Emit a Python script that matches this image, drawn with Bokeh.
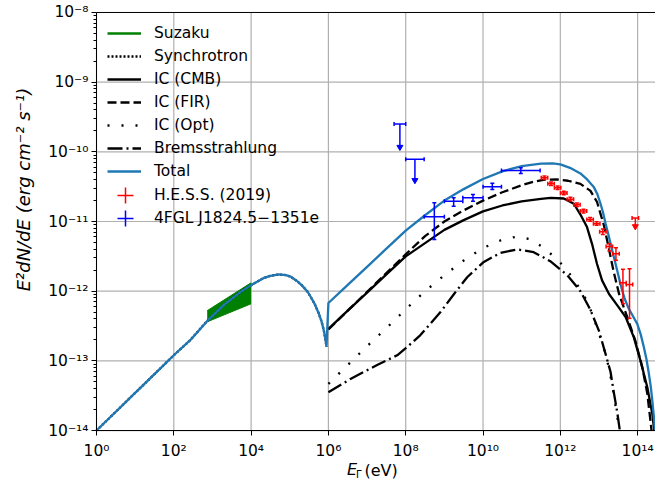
import numpy as np
from bokeh.plotting import figure
from bokeh.models import (Range1d, FixedTicker, CustomJSTickFormatter, Legend,
                          LegendItem, Label)
from bokeh.models import ColumnDataSource
from bokeh.embed import file_html
from bokeh.resources import INLINE

# ---------------- data ----------------
# model curves: log10(E / eV) and log10(E^2 dN/dE / erg cm^-2 s^-1)
sync_log_e = [0.0, 0.5, 1.0, 1.5, 2.0, 2.43, 2.86, 3.29, 3.73, 3.98, 4.33, 4.5, 4.72,
              4.9, 5.02, 5.2, 5.32, 5.45, 5.54, 5.65, 5.75, 5.82, 5.88, 5.92, 5.95]
sync_log_f = [-14.0, -13.73, -13.46, -13.19, -12.92, -12.70, -12.43, -12.20, -12.01,
              -11.92, -11.81, -11.78, -11.76, -11.77, -11.79, -11.86, -11.92, -12.00,
              -12.08, -12.19, -12.32, -12.43, -12.56, -12.68, -12.80]

cmb_log_e = [6.0, 6.5, 7.0, 7.5, 8.0, 8.5, 9.0, 9.5, 10.0, 10.5, 11.0, 11.5, 11.75, 12.09,
             12.35, 12.52, 12.69, 12.82, 12.95, 13.08, 13.26, 13.47, 13.69, 13.90, 14.07,
             14.25, 14.38, 14.43]
cmb_log_f = [-12.54, -12.28, -12.02, -11.76, -11.50, -11.31, -11.12, -10.98, -10.855,
             -10.77, -10.71, -10.675, -10.66, -10.67, -10.745, -10.90, -11.08, -11.32,
             -11.61, -11.845, -12.04, -12.20, -12.37, -12.66, -12.99, -13.38, -13.76, -14.0]

fir_log_e = [6.0, 6.5, 7.0, 7.5, 8.0, 8.5, 9.0, 9.5, 10.0, 10.5, 11.0, 11.3, 11.6, 11.9,
             12.2, 12.52, 12.78, 12.95, 13.13, 13.26, 13.38, 13.52, 13.73, 13.94, 14.12,
             14.25, 14.33, 14.36]
fir_log_f = [-12.55, -12.28, -12.01, -11.74, -11.47, -11.21, -11.00, -10.84, -10.70,
             -10.58, -10.48, -10.43, -10.40, -10.395, -10.415, -10.46, -10.56, -10.72,
             -11.06, -11.40, -11.72, -12.04, -12.37, -12.71, -13.09, -13.47, -13.85, -14.0]

opt_log_e = [6.0, 6.5, 7.0, 7.5, 8.0, 8.5, 9.0, 9.5, 10.0, 10.5, 10.85, 11.2, 11.5, 11.81,
             12.07, 12.31, 12.50, 12.68, 12.82, 12.95, 13.06, 13.17, 13.25, 13.32, 13.38,
             13.44, 13.50, 13.53]
opt_log_f = [-13.33, -13.06, -12.79, -12.53, -12.26, -12.00, -11.77, -11.56, -11.38,
             -11.26, -11.22, -11.25, -11.35, -11.49, -11.63, -11.80, -11.96, -12.13,
             -12.32, -12.52, -12.71, -12.90, -13.09, -13.28, -13.47, -13.69, -13.90, -14.0]

brems_log_e = [6.0, 6.57, 7.26, 7.78, 8.04, 8.38, 8.90, 9.25, 9.59, 10.02, 10.45, 10.88,
               11.31, 11.74, 12.18, 12.52, 12.78, 13.00, 13.17, 13.30, 13.38, 13.47, 13.54]
brems_log_f = [-13.45, -13.26, -13.06, -12.92, -12.80, -12.63, -12.30, -12.04, -11.80,
               -11.58, -11.45, -11.40, -11.44, -11.57, -11.77, -12.00, -12.27, -12.57,
               -12.90, -13.16, -13.44, -13.73, -14.0]

total_log_e = [0.0, 0.5, 1.0, 1.5, 2.0, 2.43, 2.86, 3.29, 3.73, 3.98, 4.33, 4.5, 4.72,
               4.9, 5.02, 5.2, 5.32, 5.45, 5.54, 5.65, 5.75, 5.82, 5.88, 5.92, 5.95,
               6.0, 6.5, 7.0, 7.5, 8.0, 8.5, 9.0, 9.5, 10.0, 10.5, 11.0, 11.5, 11.8, 12.0,
               12.25, 12.52, 12.7, 12.87, 12.96, 13.04, 13.1, 13.17, 13.24, 13.30, 13.38,
               13.47, 13.54, 13.60, 13.68, 13.77, 13.88, 13.99, 14.08, 14.16, 14.23, 14.29,
               14.34, 14.38, 14.42, 14.45]
total_log_f = [-14.0, -13.73, -13.46, -13.19, -12.92, -12.70, -12.43, -12.20, -12.01,
               -11.92, -11.81, -11.78, -11.76, -11.77, -11.79, -11.86, -11.92, -12.00,
               -12.08, -12.19, -12.32, -12.43, -12.56, -12.68, -12.80,
               -12.17, -11.91, -11.65, -11.39, -11.13, -10.91, -10.70, -10.535, -10.39,
               -10.28, -10.205, -10.17, -10.165, -10.18, -10.23, -10.31, -10.40, -10.51,
               -10.61, -10.745, -10.86, -11.03, -11.18, -11.32, -11.50, -11.70, -11.86,
               -11.99, -12.13, -12.25, -12.36, -12.47, -12.62, -12.80, -12.98, -13.18,
               -13.37, -13.57, -13.80, -14.0]

# Suzaku butterfly (eV, erg cm^-2 s^-1)
suzaku_e = [7.3e2, 1.0e4]
suzaku_lo = [3.63e-13, 6.6e-13]
suzaku_hi = [5.25e-13, 1.32e-12]

# H.E.S.S. (2019) flux points
hess_e = [3.89e11, 5.75e11, 8.51e11, 1.23e12, 1.82e12, 2.69e12, 3.98e12, 5.89e12,
          8.71e12, 1.26e13, 1.86e13, 2.75e13, 4.17e13, 6.17e13]
hess_e_lo = [3.21e11, 4.74e11, 7.01e11, 1.01e12, 1.50e12, 2.22e12, 3.28e12, 4.85e12,
             7.18e12, 1.04e13, 1.53e13, 2.27e13, 3.44e13, 5.08e13]
hess_e_hi = [4.72e11, 6.97e11, 1.03e12, 1.49e12, 2.21e12, 3.26e12, 4.83e12, 7.14e12,
             1.06e13, 1.53e13, 2.26e13, 3.34e13, 5.06e13, 7.48e13]
hess_f = [4.25e-11, 3.48e-11, 3.05e-11, 2.57e-11, 2.09e-11, 1.74e-11, 1.41e-11, 1.07e-11,
          9.3e-12, 7.14e-12, 4.37e-12, 3.45e-12, 1.32e-12, 1.245e-12]
hess_f_lo = [4.0e-11, 3.28e-11, 2.88e-11, 2.42e-11, 1.97e-11, 1.64e-11, 1.33e-11,
             1.01e-11, 8.8e-12, 6.53e-12, 3.76e-12, 2.77e-12, 6.6e-13, 4.07e-13]
hess_f_hi = [4.5e-11, 3.69e-11, 3.23e-11, 2.72e-11, 2.22e-11, 1.84e-11, 1.50e-11,
             1.14e-11, 9.9e-12, 7.82e-12, 4.79e-12, 4.21e-12, 2.06e-12, 2.10e-12]
hess_ul_e = [8.71e13]
hess_ul_e_lo = [7.18e13]
hess_ul_e_hi = [1.06e14]
hess_ul_f = [1.12e-11]
hess_ul_tip = [8.5e-12]

# 4FGL J1824.5-1351e flux points
fgl_e = [5.5e8, 1.74e9, 5.5e9, 1.74e10, 9.5e10]
fgl_e_lo = [3.0e8, 1.0e9, 3.0e9, 1.0e10, 3.0e10]
fgl_e_hi = [1.0e9, 3.0e9, 1.0e10, 3.0e10, 3.0e11]
fgl_f = [1.17e-11, 1.95e-11, 2.19e-11, 3.16e-11, 5.4e-11]
fgl_f_lo = [5.5e-12, 1.66e-11, 1.95e-11, 2.88e-11, 4.9e-11]
fgl_f_hi = [1.86e-11, 2.19e-11, 2.45e-11, 3.55e-11, 5.9e-11]
fgl_ul_e = [7.07e7, 1.73e8]
fgl_ul_e_lo = [5.0e7, 1.0e8]
fgl_ul_e_hi = [1.0e8, 3.0e8]
fgl_ul_f = [2.5e-10, 7.8e-11]
fgl_ul_tip = [1.17e-10, 3.9e-11]

x_ticks = [1e0, 1e2, 1e4, 1e6, 1e8, 1e10, 1e12, 1e14]
y_ticks = [1e-14, 1e-13, 1e-12, 1e-11, 1e-10, 1e-9, 1e-8]
X_MIN, X_MAX = 1.0, 2.9e14
Y_MIN, Y_MAX = 1e-14, 1e-8

# ---------------- figure ----------------
FONT = "DejaVu Sans"
FS = "15.5px"
BLUE = "#1f77b4"
GRID = "#b0b0b0"

# The frame covers the whole canvas; both axes are pinned at the data origin
# so that the axis texts can sit around them inside the frame.
p = figure(width=655, height=485, x_axis_type="log", y_axis_type="log",
           x_range=Range1d(10 ** -2.4838, X_MAX), y_range=Range1d(10 ** -14.789, 10 ** -7.828),
           output_backend="svg", toolbar_location=None,
           min_border_left=0, min_border_right=0, min_border_top=0, min_border_bottom=0)
p.outline_line_color = None
p.background_fill_color = "white"
p.border_fill_color = "white"
p.xgrid.visible = False
p.ygrid.visible = False

sup_js = """
const sup = {'-':'\u207b','0':'\u2070','1':'\u00b9','2':'\u00b2','3':'\u00b3','4':'\u2074',
             '5':'\u2075','6':'\u2076','7':'\u2077','8':'\u2078','9':'\u2079'};
const e = Math.round(Math.log10(tick));
return '10' + String(e).split('').map(c => sup[c]).join('');
"""

p.xaxis.ticker = FixedTicker(ticks=x_ticks, minor_ticks=[])
p.yaxis.ticker = FixedTicker(ticks=y_ticks,
                             minor_ticks=[k * 10.0 ** n for n in range(-14, -8) for k in range(2, 10)])
for ax in (p.xaxis[0], p.yaxis[0]):
    ax.formatter = CustomJSTickFormatter(code=sup_js)
    ax.major_label_text_font = FONT
    ax.major_label_text_font_size = FS
    ax.major_label_text_color = "black"
    ax.axis_line_color = "black"
    ax.axis_line_width = 1
    ax.major_tick_line_color = "black"
    ax.minor_tick_line_color = "black"
    ax.major_tick_in = 0
    ax.major_tick_out = 5
    ax.minor_tick_in = 0
    ax.minor_tick_out = 3
    ax.axis_label = None
p.xaxis.fixed_location = Y_MIN
p.xaxis.bounds = (X_MIN, X_MAX)
p.xaxis.major_label_standoff = 6
p.yaxis.fixed_location = X_MIN
p.yaxis.bounds = (Y_MIN, Y_MAX)
p.yaxis.major_label_standoff = 3

# grid lines at the major ticks, limited to the axes box
p.segment(x0=x_ticks, y0=[Y_MIN] * len(x_ticks), x1=x_ticks, y1=[Y_MAX] * len(x_ticks),
          line_color=GRID, line_width=1.2, level="underlay")
p.segment(x0=[X_MIN] * len(y_ticks), y0=y_ticks, x1=[X_MAX] * len(y_ticks), y1=y_ticks,
          line_color=GRID, line_width=1.2, level="underlay")
# top spine
p.segment(x0=[X_MIN], y0=[Y_MAX], x1=[X_MAX], y1=[Y_MAX], line_color="black", line_width=1)

lw = 2.3
NAN = [float("nan")]
# Suzaku band
p.varea(x=suzaku_e, y1=suzaku_lo, y2=suzaku_hi, fill_color="green")
p.line(x=suzaku_e, y=suzaku_lo, line_color="green", line_width=1)
p.line(x=suzaku_e, y=suzaku_hi, line_color="green", line_width=1)
suz_leg = p.line(x=NAN, y=NAN, line_color="green", line_width=lw)

def pw(a):
    return 10.0 ** np.asarray(a, dtype=float)

r_sync = p.line(pw(sync_log_e), pw(sync_log_f), line_color="black", line_width=lw,
                line_dash="2 2")
r_cmb = p.line(pw(cmb_log_e), pw(cmb_log_f), line_color="black", line_width=lw)
r_fir = p.line(pw(fir_log_e), pw(fir_log_f), line_color="black", line_width=lw,
               line_dash="9 4")
r_opt = p.line(pw(opt_log_e), pw(opt_log_f), line_color="black", line_width=lw,
               line_dash="2 12")
r_brems = p.line(pw(brems_log_e), pw(brems_log_f), line_color="black", line_width=lw,
                 line_dash="15 4 2 4")
r_total = p.line(pw(total_log_e), pw(total_log_f), line_color=BLUE, line_width=lw)

EB_W = 1.5
CAP = 4

def errorbars(e, elo, ehi, f, flo, fhi, color):
    src = ColumnDataSource(dict(e=e, elo=elo, ehi=ehi, f=f, flo=flo, fhi=fhi))
    p.segment(x0="elo", y0="f", x1="ehi", y1="f", source=src, line_color=color, line_width=EB_W)
    p.segment(x0="e", y0="flo", x1="e", y1="fhi", source=src, line_color=color, line_width=EB_W)
    for xc, yc, ang in (("elo", "f", np.pi / 2), ("ehi", "f", np.pi / 2),
                        ("e", "flo", 0.0), ("e", "fhi", 0.0)):
        p.scatter(x=xc, y=yc, source=src, marker="dash", angle=ang, size=CAP,
                  line_color=color, line_width=EB_W)

def upperlimits(e, elo, ehi, f, tip, color):
    src = ColumnDataSource(dict(e=e, elo=elo, ehi=ehi, f=f, tip=tip))
    p.segment(x0="elo", y0="f", x1="ehi", y1="f", source=src, line_color=color, line_width=EB_W)
    p.segment(x0="e", y0="f", x1="e", y1="tip", source=src, line_color=color, line_width=EB_W)
    for xc in ("elo", "ehi"):
        p.scatter(x=xc, y="f", source=src, marker="dash", angle=np.pi / 2, size=CAP,
                  line_color=color, line_width=EB_W)
    p.scatter(x="e", y="tip", source=src, marker="inverted_triangle", size=6,
              line_color=color, fill_color=color)

errorbars(hess_e, hess_e_lo, hess_e_hi, hess_f, hess_f_lo, hess_f_hi, "red")
upperlimits(hess_ul_e, hess_ul_e_lo, hess_ul_e_hi, hess_ul_f, hess_ul_tip, "red")
errorbars(fgl_e, fgl_e_lo, fgl_e_hi, fgl_f, fgl_f_lo, fgl_f_hi, "blue")
upperlimits(fgl_ul_e, fgl_ul_e_lo, fgl_ul_e_hi, fgl_ul_f, fgl_ul_tip, "blue")

hess_leg = p.scatter(x=NAN, y=NAN, marker="cross", size=16, line_color="red", line_width=EB_W)
fgl_leg = p.scatter(x=NAN, y=NAN, marker="cross", size=16, line_color="blue", line_width=EB_W)

def style_legend(lg):
    lg.margin = 0
    lg.spacing = 3
    lg.label_height = 20
    lg.label_text_font = FONT
    lg.label_text_font_size = FS
    lg.label_text_color = "black"
    lg.background_fill_alpha = 0
    lg.border_line_alpha = 0

legend = Legend(items=[
    LegendItem(label="Suzaku", renderers=[suz_leg]),
    LegendItem(label="Synchrotron", renderers=[r_sync]),
    LegendItem(label="IC (CMB)", renderers=[r_cmb]),
    LegendItem(label="IC (FIR)", renderers=[r_fir]),
    LegendItem(label="IC (Opt)", renderers=[r_opt]),
    LegendItem(label="Bremsstrahlung", renderers=[r_brems]),
    LegendItem(label="Total", renderers=[r_total]),
], location=(96, 293))
style_legend(legend)
legend.padding = 11
legend.glyph_width = 34
legend.glyph_height = 20
legend.label_standoff = 13
p.add_layout(legend)

# the error-bar keys need a taller glyph box so that the cross is drawn large enough
for item, loc in ((LegendItem(label="H.E.S.S. (2019)", renderers=[hess_leg]), (105, 270)),
                  (LegendItem(label="4FGL J1824.5\u22121351e", renderers=[fgl_leg]), (105, 247))):
    lg = Legend(items=[item], location=loc)
    style_legend(lg)
    lg.padding = 0
    lg.glyph_width = 40
    lg.glyph_height = 40
    lg.label_standoff = 9
    p.add_layout(lg)

# axis labels
p.add_layout(Label(x=10 ** -1.889, y=10 ** -10.541,
                   text="E\u00b2dN/dE (erg cm\u207b\u00b2 s\u207b\u00b9)",
                   angle=np.pi / 2, text_align="center", text_baseline="middle",
                   text_font=FONT, text_font_size="18px", text_font_style="italic",
                   text_color="black"))
p.add_layout(Label(x=10 ** 6.481, y=10 ** -14.56, text="E", text_align="left",
                   text_baseline="middle", text_font=FONT, text_font_size="16px",
                   text_font_style="italic", text_color="black"))
p.add_layout(Label(x=10 ** 6.714, y=10 ** -14.63, text="\u0393", text_align="left",
                   text_baseline="middle", text_font=FONT, text_font_size="10px",
                   text_color="black"))
p.add_layout(Label(x=10 ** 6.934, y=10 ** -14.567, text="(eV)", text_align="left",
                   text_baseline="middle", text_font=FONT, text_font_size="16px",
                   text_color="black"))

open("out.html", "w", encoding="utf-8").write(file_html(p, INLINE))
